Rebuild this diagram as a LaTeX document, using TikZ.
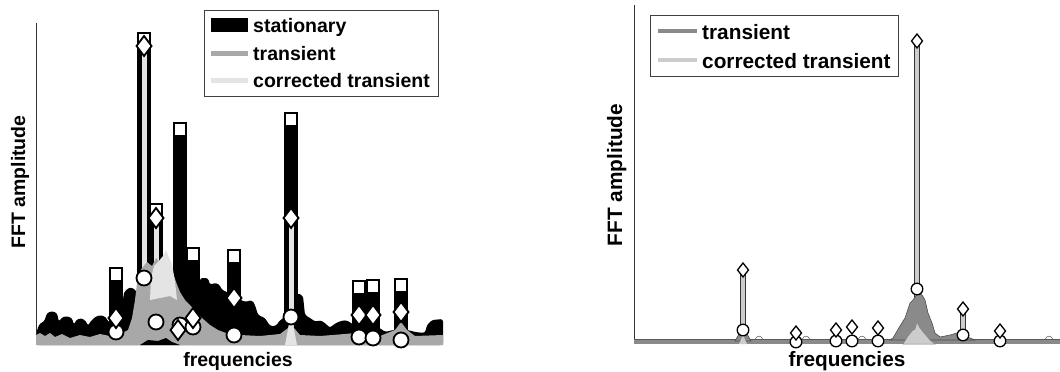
\documentclass[tikz,border=0pt]{standalone}
\usepackage{fontspec}
\setmainfont{Liberation Sans}
\definecolor{tgray}{RGB}{168,168,168}
\definecolor{cgray}{RGB}{228,228,228}
\definecolor{rtgray}{RGB}{138,138,138}
\definecolor{rcgray}{RGB}{204,204,204}
\begin{document}
\begin{tikzpicture}[x=1pt,y=-1pt,
  lbl/.style={font=\fontsize{19.5}{22}\selectfont\bfseries, inner sep=0pt},
  rlbl/.style={font=\fontsize{20.8}{24}\selectfont\bfseries, inner sep=0pt},
  mk/.style={fill=white,draw=black,line width=1.8pt},
  rmk/.style={fill=white,draw=black,line width=1.3pt},
  axisline/.style={black!80,line width=0.8pt},
  legbox/.style={draw=black!75,line width=1pt,fill=white}]
\useasboundingbox (0,0) rectangle (1060,372);
\fill[white] (0,0) rectangle (1060,372);

%================ LEFT PLOT ================
\draw[axisline] (36,23) -- (36,345);
% stationary spectrum (noise envelope)
\fill[black,rounded corners=2.5pt] (36,345) -- (37,330) -- (40,323) -- (44,322) -- (47,313) -- (52,311) -- (57,313) -- (59,322)
  -- (61,318) -- (66,316) -- (72,318) -- (74,325) -- (76,320) -- (81,318) -- (86,321) -- (88,326)
  -- (90,322) -- (95,317) -- (100,315) -- (106,317) -- (108,322) -- (110,322) -- (123,300) -- (124,292)
  -- (130,287) -- (136,290) -- (137,300) -- (165,300) -- (200,300) -- (200,278) -- (208,278) -- (210,285)
  -- (214,283) -- (219,284) -- (222,290) -- (227,292) -- (241,300) -- (245,302) -- (252,300) -- (255,305)
  -- (258,315) -- (265,318) -- (270,326) -- (276,326) -- (280,320) -- (284,318) -- (298,293) -- (303,296)
  -- (305,315) -- (310,318) -- (316,322) -- (320,320) -- (325,323) -- (330,328) -- (333,325) -- (338,322)
  -- (345,320) -- (350,322) -- (353,325) -- (380,328) -- (385,332) -- (393,330) -- (408,330) -- (415,332)
  -- (425,333) -- (427,325) -- (432,320) -- (443,319) -- (443,345) -- cycle;
% stationary peaks
\foreach \x/\t in {116/267,144/32,156/203,180/122,193/247,234/249,291/112,359/280,373/279,401/278}
  \fill[black] (\x-7,\t) rectangle (\x+7,345);
% corrected transient stems
\foreach \x/\t in {144/46,156/218,291/218}
  \fill[cgray] (\x-2.5,\t) rectangle (\x+2.5,345);
% transient spectrum
\fill[tgray] (36,345) -- (36,335) -- (40,333) -- (45,336) -- (50,333) -- (55,337) -- (62,334) -- (70,338)
  -- (80,335) -- (90,337) -- (100,334) -- (110,336) -- (120,334) -- (128,330) -- (132,318) -- (135,300)
  -- (138,275) -- (142,268) -- (147,262) -- (152,266) -- (156,258) -- (160,262) -- (164,255) -- (168,262)
  -- (172,270) -- (176,282) -- (180,292) -- (185,300) -- (190,305) -- (196,312) -- (202,318) -- (210,325)
  -- (218,330) -- (226,333) -- (240,335) -- (260,336) -- (280,334) -- (288,328) -- (291,318) -- (294,328)
  -- (300,335) -- (320,336) -- (345,334) -- (355,333) -- (365,334) -- (380,336) -- (395,330) -- (401,322)
  -- (407,330) -- (415,336) -- (443,335) -- (443,345) -- cycle;
% corrected transient
\fill[cgray] (150,300) -- (151,278) -- (154,266) -- (158,262) -- (163,256) -- (166,250) -- (169,258)
  -- (172,264) -- (175,282) -- (177,300) -- (170,296) -- (160,298) -- cycle;
\fill[cgray] (285,345) -- (291,314) -- (297,345) -- cycle;
\fill[black] (140,345) -- (148,340) -- (158,341) -- (166,338) -- (172,342) -- (180,345) -- cycle;
% markers
\foreach \x/\t in {116/267,144/32,156/203,180/122,193/247,234/249,291/112,359/280,373/279,401/278}
  \draw[mk,line width=1.6pt] (\x-6.2,\t+0.8) rectangle (\x+6.2,\t+13.5);
\foreach \x/\y in {116/332,144/278,156/322,180/325,193/327,234/335,291/317,359/337,373/338,401/340}
  \draw[mk] (\x,\y) circle (7.5pt);
\foreach \x/\y in {116/318,144/46,156/218,178/330,193/318,234/298,291/218,359/315,373/315,401/312}
  \draw[mk] (\x,\y-10) -- (\x+7.5,\y) -- (\x,\y+10) -- (\x-7.5,\y) -- cycle;
% legend
\draw[legbox] (204,10) rectangle (438,96);
\fill[black] (211,18) rectangle (248,32);
\draw[tgray,line width=5pt] (211,53) -- (248,53);
\draw[cgray,line width=5pt] (211,80) -- (248,80);
\node[lbl,anchor=base west] (ls) at (253,32) {stationary};
\node[lbl,anchor=base west] (lt) at (253,60) {transient};
\node[lbl,anchor=base west] (lc) at (253,87) {corrected transient};
\node[lbl,rotate=90,anchor=base] (ly) at (25,182) {FFT amplitude};
\node[lbl,anchor=base] (lx) at (238,366) {frequencies};

%================ RIGHT PLOT ================
\draw[axisline] (634,5) -- (634,343);
% stems
\foreach \x/\t in {743/270,917/41,963/309}
  \draw[fill=rcgray,draw=black!80,line width=0.8pt] (\x-2.5,\t) rectangle (\x+2.5,342);
% baseline band
\fill[rtgray] (634,339) rectangle (1060,344);
\draw[black!65,line width=0.8pt] (634,339.5) -- (1060,339.5);
% transient humps
\filldraw[fill=rtgray,draw=black!70,line width=0.6pt] (890,340) -- (893,338) -- (900,326) -- (905,318) -- (910,303)
  -- (913,300) -- (918,293) -- (922,295) -- (925,300) -- (928,313) -- (932,323) -- (935,333) -- (940,337)
  -- (950,335) -- (957,333) -- (962,335) -- (970,338) -- (975,340) -- cycle;
\filldraw[fill=rcgray,draw=black!50,line width=0.5pt] (903,344) -- (908,336) -- (912,331) -- (915,329)
  -- (917,322) -- (920,328) -- (924,333) -- (930,340) -- (935,344) -- cycle;
\filldraw[fill=rtgray,draw=black!70,line width=0.6pt] (735,341) -- (743,327) -- (751,341) -- cycle;
\fill[rcgray] (739,344) -- (743,335) -- (747,344) -- cycle;
\foreach \a in {755,802,858,1045}
  \draw[black!60,line width=0.6pt] (\a,339.5) .. controls (\a+2,335) and (\a+6,335) .. (\a+8,339.5);
% markers
\foreach \x/\y in {743/330,796/342,836/341,852/341,878/341,917/289,963/335,1000/341}
  \draw[rmk] (\x,\y) circle (5.8pt);
\foreach \x/\y in {743/270,796/333,836/330,852/327,878/328,917/41,963/309,1000/331}
  \draw[rmk] (\x,\y-7) -- (\x+5.5,\y) -- (\x,\y+7) -- (\x-5.5,\y) -- cycle;
% legend
\draw[legbox] (650,15) rectangle (898,76);
\draw[rtgray,line width=4pt] (658,31) -- (697,31);
\draw[rcgray,line width=4pt] (658,60) -- (697,60);
\node[rlbl,anchor=base west] (rt) at (702,39) {transient};
\node[rlbl,anchor=base west] (rc) at (702,68) {corrected transient};
\node[rlbl,rotate=90,anchor=base] (ry) at (622,175) {FFT amplitude};
\node[rlbl,anchor=base] (rx) at (847,366) {frequencies};
\end{tikzpicture}
\end{document}
